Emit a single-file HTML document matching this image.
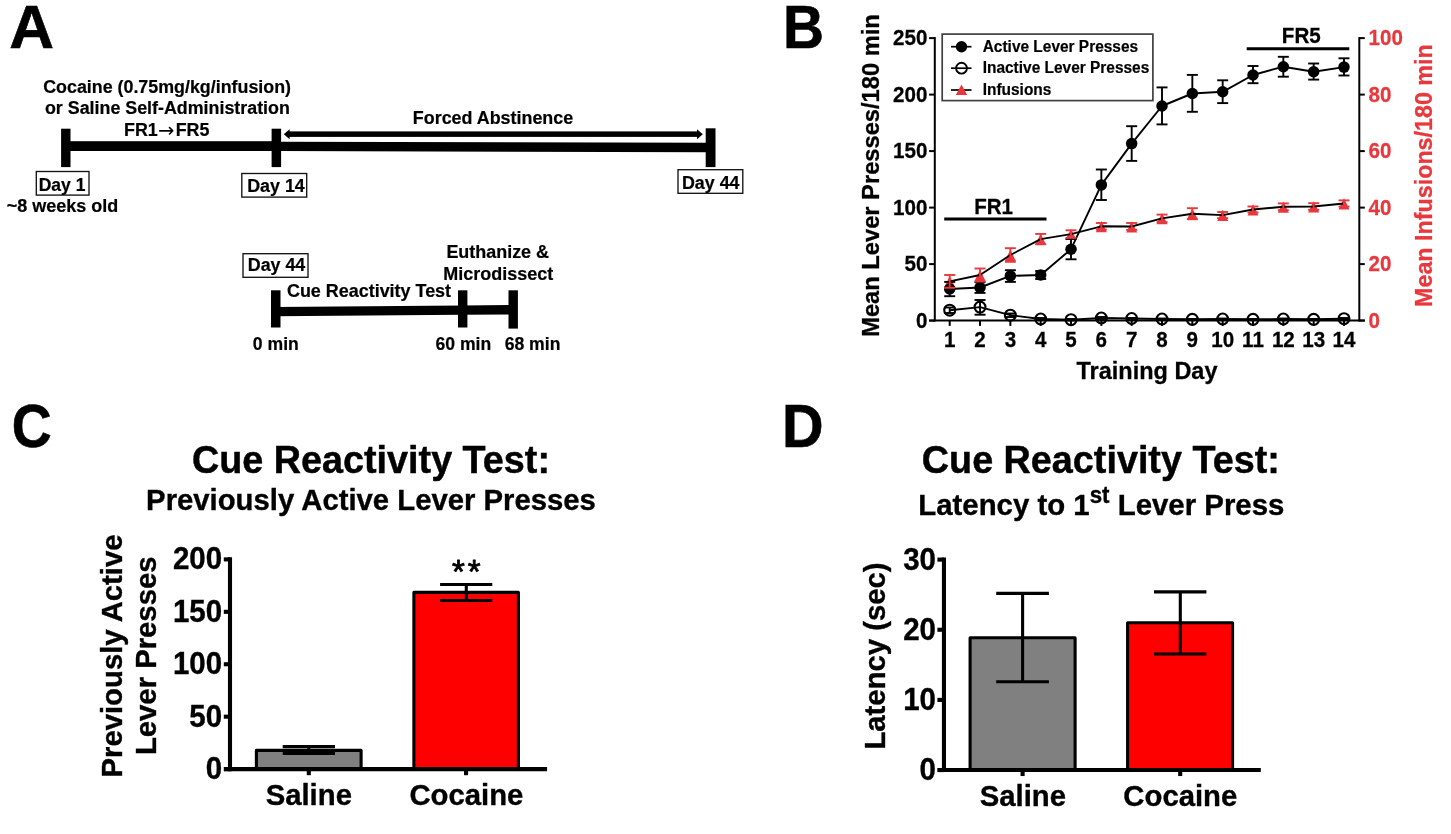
<!DOCTYPE html>
<html lang="en">
<head>
<meta charset="utf-8">
<title>Cocaine self-administration and cue reactivity figure</title>
<style>
html, body { margin: 0; padding: 0; background: #ffffff; }
body { width: 1451px; height: 834px; overflow: hidden; }
svg { display: block; }
svg text { font-family: "Liberation Sans", sans-serif; }
</style>
</head>
<body>
<svg width="1451" height="834" viewBox="0 0 1451 834">
<rect x="0" y="0" width="1451" height="834" fill="#ffffff"/>
<text transform="translate(9.3 47.85) scale(1.03 1)" font-size="60.2" font-weight="bold" fill="#000" stroke="#000" stroke-width="0.6">A</text>
<text transform="translate(783.0 47.85) scale(0.944 1)" font-size="60.2" font-weight="bold" fill="#000" stroke="#000" stroke-width="0.6">B</text>
<text transform="translate(11.8 447.2) scale(0.917 1)" font-size="60.2" font-weight="bold" fill="#000" stroke="#000" stroke-width="0.6">C</text>
<text transform="translate(782.0 446.9) scale(0.957 1)" font-size="60.2" font-weight="bold" fill="#000" stroke="#000" stroke-width="0.6">D</text>
<g id="panelA">
<text transform="translate(167.1 92.5) scale(1 1.035)" font-size="17.85" text-anchor="middle" fill="#000" stroke="#000" stroke-width="0.21" font-weight="bold">Cocaine (0.75mg/kg/infusion)</text>
<text transform="translate(167.4 113.8) scale(1 1.035)" font-size="17.85" text-anchor="middle" fill="#000" stroke="#000" stroke-width="0.21" font-weight="bold">or Saline Self-Administration</text>
<text transform="translate(0 135.6) scale(1 1.035)" font-size="17.9" font-weight="bold" fill="#000" stroke="#000" stroke-width="0.2"><tspan x="124.0">FR1</tspan><tspan x="158.0" dy="0.9" font-weight="normal" font-size="19.5" stroke="none" font-family="DejaVu Sans, Liberation Sans, sans-serif">→</tspan><tspan x="175.7" dy="-0.9">FR5</tspan></text>
<text transform="translate(493 123.6) scale(1 1.035)" font-size="17.9" text-anchor="middle" fill="#000" stroke="#000" stroke-width="0.21" font-weight="bold">Forced Abstinence</text>
<rect x="65.00" y="141.20" width="212.00" height="9.80" fill="#000"/>
<polygon points="276,141.7 711,142.8 711,152.3 276,151.1" fill="#000"/>
<rect x="61.10" y="128.70" width="9.40" height="38.40" fill="#000"/>
<rect x="271.60" y="128.70" width="9.50" height="38.40" fill="#000"/>
<rect x="705.70" y="128.30" width="9.80" height="38.80" fill="#000"/>
<rect x="288.00" y="131.40" width="410.00" height="5.50" fill="#000"/>
<polygon points="283.8,134.2 289.6,129.3 289.6,139.3" fill="#000"/>
<polygon points="702.8,134.2 697,129.3 697,139.3" fill="#000"/>
<rect x="36.30" y="171.50" width="52.70" height="23.60" fill="#fff" stroke="#141414" stroke-width="1.35"/>
<text transform="translate(62.05 190.6) scale(1 1.035)" font-size="17.5" text-anchor="middle" fill="#000" stroke="#000" stroke-width="0.21" font-weight="bold">Day 1</text>
<rect x="241.80" y="173.50" width="64.90" height="23.60" fill="#fff" stroke="#141414" stroke-width="1.35"/>
<text transform="translate(275.95 191.6) scale(1 1.035)" font-size="17.85" text-anchor="middle" fill="#000" stroke="#000" stroke-width="0.21" font-weight="bold">Day 14</text>
<rect x="678.00" y="169.70" width="64.80" height="23.60" fill="#fff" stroke="#141414" stroke-width="1.35"/>
<text transform="translate(710.6999999999999 188.6) scale(1 1.035)" font-size="17.85" text-anchor="middle" fill="#000" stroke="#000" stroke-width="0.21" font-weight="bold">Day 44</text>
<text transform="translate(62.5 212) scale(1 1.035)" font-size="18" text-anchor="middle" fill="#000" stroke="#000" stroke-width="0.22" font-weight="bold">~8 weeks old</text>
<rect x="243.00" y="253.70" width="65.00" height="23.60" fill="#fff" stroke="#141414" stroke-width="1.35"/>
<text transform="translate(276.5 271.4) scale(1 1.035)" font-size="17.85" text-anchor="middle" fill="#000" stroke="#000" stroke-width="0.21" font-weight="bold">Day 44</text>
<text transform="translate(369 297.0) scale(1 1.035)" font-size="17.95" text-anchor="middle" fill="#000" stroke="#000" stroke-width="0.22" font-weight="bold">Cue Reactivity Test</text>
<text transform="translate(497.7 258.3) scale(1 1.035)" font-size="17.95" text-anchor="middle" fill="#000" stroke="#000" stroke-width="0.22" font-weight="bold">Euthanize &amp;</text>
<text transform="translate(498.2 279.8) scale(1 1.035)" font-size="18" text-anchor="middle" fill="#000" stroke="#000" stroke-width="0.22" font-weight="bold">Microdissect</text>
<polygon points="275,306.9 462,305.4 513,305.1 513,314.4 462,314.8 275,316.3" fill="#000"/>
<rect x="271.00" y="290.30" width="9.50" height="37.20" fill="#000"/>
<rect x="458.00" y="290.30" width="9.40" height="37.20" fill="#000"/>
<rect x="508.50" y="290.30" width="9.40" height="38.30" fill="#000"/>
<text transform="translate(275.8 349.6) scale(1 1.035)" font-size="17.6" text-anchor="middle" fill="#000" stroke="#000" stroke-width="0.21" font-weight="bold">0 min</text>
<text transform="translate(463.3 349.6) scale(1 1.035)" font-size="17.6" text-anchor="middle" fill="#000" stroke="#000" stroke-width="0.21" font-weight="bold">60 min</text>
<text transform="translate(532.5 349.6) scale(1 1.035)" font-size="17.6" text-anchor="middle" fill="#000" stroke="#000" stroke-width="0.21" font-weight="bold">68 min</text>
</g>
<g id="panelB">
<line x1="929.10" y1="320.60" x2="934.80" y2="320.60" stroke="#000" stroke-width="2.0" stroke-linecap="butt"/>
<text transform="translate(927.4 327.90000000000003) scale(1 1.035)" font-size="20.6" text-anchor="end" fill="#000" stroke="#000" stroke-width="0.25" font-weight="bold">0</text>
<line x1="929.10" y1="264.10" x2="934.80" y2="264.10" stroke="#000" stroke-width="2.0" stroke-linecap="butt"/>
<text transform="translate(927.4 271.40000000000003) scale(1 1.035)" font-size="20.6" text-anchor="end" fill="#000" stroke="#000" stroke-width="0.25" font-weight="bold">50</text>
<line x1="929.10" y1="207.60" x2="934.80" y2="207.60" stroke="#000" stroke-width="2.0" stroke-linecap="butt"/>
<text transform="translate(927.4 214.90000000000003) scale(1 1.035)" font-size="20.6" text-anchor="end" fill="#000" stroke="#000" stroke-width="0.25" font-weight="bold">100</text>
<line x1="929.10" y1="151.10" x2="934.80" y2="151.10" stroke="#000" stroke-width="2.0" stroke-linecap="butt"/>
<text transform="translate(927.4 158.40000000000003) scale(1 1.035)" font-size="20.6" text-anchor="end" fill="#000" stroke="#000" stroke-width="0.25" font-weight="bold">150</text>
<line x1="929.10" y1="94.60" x2="934.80" y2="94.60" stroke="#000" stroke-width="2.0" stroke-linecap="butt"/>
<text transform="translate(927.4 101.90000000000002) scale(1 1.035)" font-size="20.6" text-anchor="end" fill="#000" stroke="#000" stroke-width="0.25" font-weight="bold">200</text>
<line x1="929.10" y1="38.10" x2="934.80" y2="38.10" stroke="#000" stroke-width="2.0" stroke-linecap="butt"/>
<text transform="translate(927.4 45.40000000000002) scale(1 1.035)" font-size="20.6" text-anchor="end" fill="#000" stroke="#000" stroke-width="0.25" font-weight="bold">250</text>
<line x1="1359.30" y1="320.60" x2="1364.80" y2="320.60" stroke="#000" stroke-width="2.0" stroke-linecap="butt"/>
<text transform="translate(1368.6 327.90000000000003) scale(1 1.035)" font-size="20.6" text-anchor="start" fill="#e8383d" stroke="#e8383d" stroke-width="0.25" font-weight="bold">0</text>
<line x1="1359.30" y1="264.10" x2="1364.80" y2="264.10" stroke="#000" stroke-width="2.0" stroke-linecap="butt"/>
<text transform="translate(1368.6 271.40000000000003) scale(1 1.035)" font-size="20.6" text-anchor="start" fill="#e8383d" stroke="#e8383d" stroke-width="0.25" font-weight="bold">20</text>
<line x1="1359.30" y1="207.60" x2="1364.80" y2="207.60" stroke="#000" stroke-width="2.0" stroke-linecap="butt"/>
<text transform="translate(1368.6 214.90000000000003) scale(1 1.035)" font-size="20.6" text-anchor="start" fill="#e8383d" stroke="#e8383d" stroke-width="0.25" font-weight="bold">40</text>
<line x1="1359.30" y1="151.10" x2="1364.80" y2="151.10" stroke="#000" stroke-width="2.0" stroke-linecap="butt"/>
<text transform="translate(1368.6 158.40000000000003) scale(1 1.035)" font-size="20.6" text-anchor="start" fill="#e8383d" stroke="#e8383d" stroke-width="0.25" font-weight="bold">60</text>
<line x1="1359.30" y1="94.60" x2="1364.80" y2="94.60" stroke="#000" stroke-width="2.0" stroke-linecap="butt"/>
<text transform="translate(1368.6 101.90000000000002) scale(1 1.035)" font-size="20.6" text-anchor="start" fill="#e8383d" stroke="#e8383d" stroke-width="0.25" font-weight="bold">80</text>
<line x1="1359.30" y1="38.10" x2="1364.80" y2="38.10" stroke="#000" stroke-width="2.0" stroke-linecap="butt"/>
<text transform="translate(1368.6 45.40000000000002) scale(1 1.035)" font-size="20.6" text-anchor="start" fill="#e8383d" stroke="#e8383d" stroke-width="0.25" font-weight="bold">100</text>
<line x1="949.70" y1="320.60" x2="949.70" y2="325.90" stroke="#000" stroke-width="2.0" stroke-linecap="butt"/>
<text transform="translate(949.7 347.0) scale(1 1.035)" font-size="20.6" text-anchor="middle" fill="#000" stroke="#000" stroke-width="0.25" font-weight="bold">1</text>
<line x1="980.03" y1="320.60" x2="980.03" y2="325.90" stroke="#000" stroke-width="2.0" stroke-linecap="butt"/>
<text transform="translate(980.0300000000001 347.0) scale(1 1.035)" font-size="20.6" text-anchor="middle" fill="#000" stroke="#000" stroke-width="0.25" font-weight="bold">2</text>
<line x1="1010.36" y1="320.60" x2="1010.36" y2="325.90" stroke="#000" stroke-width="2.0" stroke-linecap="butt"/>
<text transform="translate(1010.36 347.0) scale(1 1.035)" font-size="20.6" text-anchor="middle" fill="#000" stroke="#000" stroke-width="0.25" font-weight="bold">3</text>
<line x1="1040.69" y1="320.60" x2="1040.69" y2="325.90" stroke="#000" stroke-width="2.0" stroke-linecap="butt"/>
<text transform="translate(1040.69 347.0) scale(1 1.035)" font-size="20.6" text-anchor="middle" fill="#000" stroke="#000" stroke-width="0.25" font-weight="bold">4</text>
<line x1="1071.02" y1="320.60" x2="1071.02" y2="325.90" stroke="#000" stroke-width="2.0" stroke-linecap="butt"/>
<text transform="translate(1071.02 347.0) scale(1 1.035)" font-size="20.6" text-anchor="middle" fill="#000" stroke="#000" stroke-width="0.25" font-weight="bold">5</text>
<line x1="1101.35" y1="320.60" x2="1101.35" y2="325.90" stroke="#000" stroke-width="2.0" stroke-linecap="butt"/>
<text transform="translate(1101.35 347.0) scale(1 1.035)" font-size="20.6" text-anchor="middle" fill="#000" stroke="#000" stroke-width="0.25" font-weight="bold">6</text>
<line x1="1131.68" y1="320.60" x2="1131.68" y2="325.90" stroke="#000" stroke-width="2.0" stroke-linecap="butt"/>
<text transform="translate(1131.68 347.0) scale(1 1.035)" font-size="20.6" text-anchor="middle" fill="#000" stroke="#000" stroke-width="0.25" font-weight="bold">7</text>
<line x1="1162.01" y1="320.60" x2="1162.01" y2="325.90" stroke="#000" stroke-width="2.0" stroke-linecap="butt"/>
<text transform="translate(1162.01 347.0) scale(1 1.035)" font-size="20.6" text-anchor="middle" fill="#000" stroke="#000" stroke-width="0.25" font-weight="bold">8</text>
<line x1="1192.34" y1="320.60" x2="1192.34" y2="325.90" stroke="#000" stroke-width="2.0" stroke-linecap="butt"/>
<text transform="translate(1192.3400000000001 347.0) scale(1 1.035)" font-size="20.6" text-anchor="middle" fill="#000" stroke="#000" stroke-width="0.25" font-weight="bold">9</text>
<line x1="1222.67" y1="320.60" x2="1222.67" y2="325.90" stroke="#000" stroke-width="2.0" stroke-linecap="butt"/>
<text transform="translate(1222.67 347.0) scale(1 1.035)" font-size="20.6" text-anchor="middle" fill="#000" stroke="#000" stroke-width="0.25" font-weight="bold">10</text>
<line x1="1253.00" y1="320.60" x2="1253.00" y2="325.90" stroke="#000" stroke-width="2.0" stroke-linecap="butt"/>
<text transform="translate(1253.0 347.0) scale(1 1.035)" font-size="20.6" text-anchor="middle" fill="#000" stroke="#000" stroke-width="0.25" font-weight="bold">11</text>
<line x1="1283.33" y1="320.60" x2="1283.33" y2="325.90" stroke="#000" stroke-width="2.0" stroke-linecap="butt"/>
<text transform="translate(1283.33 347.0) scale(1 1.035)" font-size="20.6" text-anchor="middle" fill="#000" stroke="#000" stroke-width="0.25" font-weight="bold">12</text>
<line x1="1313.66" y1="320.60" x2="1313.66" y2="325.90" stroke="#000" stroke-width="2.0" stroke-linecap="butt"/>
<text transform="translate(1313.66 347.0) scale(1 1.035)" font-size="20.6" text-anchor="middle" fill="#000" stroke="#000" stroke-width="0.25" font-weight="bold">13</text>
<line x1="1343.99" y1="320.60" x2="1343.99" y2="325.90" stroke="#000" stroke-width="2.0" stroke-linecap="butt"/>
<text transform="translate(1343.99 347.0) scale(1 1.035)" font-size="20.6" text-anchor="middle" fill="#000" stroke="#000" stroke-width="0.25" font-weight="bold">14</text>
<text transform="translate(1147 379.0) scale(1 1.035)" font-size="23.5" text-anchor="middle" fill="#000" stroke="#000" stroke-width="0.28" font-weight="bold">Training Day</text>
<text transform="translate(878.5 175.5) rotate(-90) scale(1 1.035)" font-size="23.7" text-anchor="middle" fill="#000" stroke="#000" stroke-width="0.28" font-weight="bold">Mean Lever Presses/180 min</text>
<text transform="translate(1432.3 175.6) rotate(-90) scale(1 1.035)" font-size="23.3" text-anchor="middle" fill="#e8383d" stroke="#e8383d" stroke-width="0.28" font-weight="bold">Mean Infusions/180 min</text>
<text transform="translate(993.6 213.6) scale(1 1.035)" font-size="20.6" text-anchor="middle" fill="#000" stroke="#000" stroke-width="0.25" font-weight="bold">FR1</text>
<line x1="944.20" y1="219.00" x2="1046.50" y2="219.00" stroke="#000" stroke-width="3" stroke-linecap="butt"/>
<text transform="translate(1301.3 42.7) scale(1 1.035)" font-size="20.6" text-anchor="middle" fill="#000" stroke="#000" stroke-width="0.25" font-weight="bold">FR5</text>
<line x1="1246.70" y1="48.70" x2="1349.30" y2="48.70" stroke="#000" stroke-width="3" stroke-linecap="butt"/>
<polygon points="949.70,276.10 944.20,287.30 955.20,287.30" fill="#e8383d"/>
<polygon points="980.03,269.70 974.53,280.90 985.53,280.90" fill="#e8383d"/>
<polygon points="1010.36,249.70 1004.86,260.90 1015.86,260.90" fill="#e8383d"/>
<polygon points="1040.69,233.80 1035.19,245.00 1046.19,245.00" fill="#e8383d"/>
<polygon points="1071.02,228.80 1065.52,240.00 1076.52,240.00" fill="#e8383d"/>
<polygon points="1101.35,221.00 1095.85,232.20 1106.85,232.20" fill="#e8383d"/>
<polygon points="1131.68,221.20 1126.18,232.40 1137.18,232.40" fill="#e8383d"/>
<polygon points="1162.01,213.10 1156.51,224.30 1167.51,224.30" fill="#e8383d"/>
<polygon points="1192.34,208.40 1186.84,219.60 1197.84,219.60" fill="#e8383d"/>
<polygon points="1222.67,209.80 1217.17,221.00 1228.17,221.00" fill="#e8383d"/>
<polygon points="1253.00,204.20 1247.50,215.40 1258.50,215.40" fill="#e8383d"/>
<polygon points="1283.33,201.50 1277.83,212.70 1288.83,212.70" fill="#e8383d"/>
<polygon points="1313.66,201.20 1308.16,212.40 1319.16,212.40" fill="#e8383d"/>
<polygon points="1343.99,198.20 1338.49,209.40 1349.49,209.40" fill="#e8383d"/>
<circle cx="949.70" cy="289.00" r="5.75" fill="#000"/>
<circle cx="980.03" cy="287.50" r="5.75" fill="#000"/>
<circle cx="1010.36" cy="275.90" r="5.75" fill="#000"/>
<circle cx="1040.69" cy="275.00" r="5.75" fill="#000"/>
<circle cx="1071.02" cy="249.20" r="5.75" fill="#000"/>
<circle cx="1101.35" cy="184.90" r="5.75" fill="#000"/>
<circle cx="1131.68" cy="143.60" r="5.75" fill="#000"/>
<circle cx="1162.01" cy="106.00" r="5.75" fill="#000"/>
<circle cx="1192.34" cy="93.50" r="5.75" fill="#000"/>
<circle cx="1222.67" cy="91.80" r="5.75" fill="#000"/>
<circle cx="1253.00" cy="75.00" r="5.75" fill="#000"/>
<circle cx="1283.33" cy="66.70" r="5.75" fill="#000"/>
<circle cx="1313.66" cy="71.70" r="5.75" fill="#000"/>
<circle cx="1343.99" cy="67.10" r="5.75" fill="#000"/>
<polyline points="949.70,281.40 980.03,275.00 1010.36,255.00 1040.69,239.10 1071.02,234.10 1101.35,226.30 1131.68,226.50 1162.01,218.40 1192.34,213.70 1222.67,215.10 1253.00,209.50 1283.33,206.80 1313.66,206.50 1343.99,203.50" fill="none" stroke="#000" stroke-width="1.9" stroke-linejoin="round"/>
<polyline points="949.70,289.00 980.03,287.50 1010.36,275.90 1040.69,275.00 1071.02,249.20 1101.35,184.90 1131.68,143.60 1162.01,106.00 1192.34,93.50 1222.67,91.80 1253.00,75.00 1283.33,66.70 1313.66,71.70 1343.99,67.10" fill="none" stroke="#000" stroke-width="1.9" stroke-linejoin="round"/>
<polyline points="949.70,310.20 980.03,307.10 1010.36,315.20 1040.69,319.00 1071.02,319.70 1101.35,318.00 1131.68,318.50 1162.01,319.00 1192.34,319.30 1222.67,319.00 1253.00,319.30 1283.33,319.00 1313.66,319.30 1343.99,318.70" fill="none" stroke="#000" stroke-width="1.9" stroke-linejoin="round"/>
<circle cx="949.70" cy="310.20" r="5.45" fill="none" stroke="#000" stroke-width="2.1"/>
<circle cx="980.03" cy="307.10" r="5.45" fill="none" stroke="#000" stroke-width="2.1"/>
<circle cx="1010.36" cy="315.20" r="5.45" fill="none" stroke="#000" stroke-width="2.1"/>
<circle cx="1040.69" cy="319.00" r="5.45" fill="none" stroke="#000" stroke-width="2.1"/>
<circle cx="1071.02" cy="319.70" r="5.45" fill="none" stroke="#000" stroke-width="2.1"/>
<circle cx="1101.35" cy="318.00" r="5.45" fill="none" stroke="#000" stroke-width="2.1"/>
<circle cx="1131.68" cy="318.50" r="5.45" fill="none" stroke="#000" stroke-width="2.1"/>
<circle cx="1162.01" cy="319.00" r="5.45" fill="none" stroke="#000" stroke-width="2.1"/>
<circle cx="1192.34" cy="319.30" r="5.45" fill="none" stroke="#000" stroke-width="2.1"/>
<circle cx="1222.67" cy="319.00" r="5.45" fill="none" stroke="#000" stroke-width="2.1"/>
<circle cx="1253.00" cy="319.30" r="5.45" fill="none" stroke="#000" stroke-width="2.1"/>
<circle cx="1283.33" cy="319.00" r="5.45" fill="none" stroke="#000" stroke-width="2.1"/>
<circle cx="1313.66" cy="319.30" r="5.45" fill="none" stroke="#000" stroke-width="2.1"/>
<circle cx="1343.99" cy="318.70" r="5.45" fill="none" stroke="#000" stroke-width="2.1"/>
<line x1="949.70" y1="307.50" x2="949.70" y2="313.00" stroke="#000" stroke-width="1.9" stroke-linecap="butt"/>
<line x1="944.20" y1="307.50" x2="955.20" y2="307.50" stroke="#000" stroke-width="1.9" stroke-linecap="butt"/>
<line x1="944.20" y1="313.00" x2="955.20" y2="313.00" stroke="#000" stroke-width="1.9" stroke-linecap="butt"/>
<line x1="980.03" y1="300.00" x2="980.03" y2="314.70" stroke="#000" stroke-width="1.9" stroke-linecap="butt"/>
<line x1="974.53" y1="300.00" x2="985.53" y2="300.00" stroke="#000" stroke-width="1.9" stroke-linecap="butt"/>
<line x1="974.53" y1="314.70" x2="985.53" y2="314.70" stroke="#000" stroke-width="1.9" stroke-linecap="butt"/>
<line x1="1010.36" y1="313.50" x2="1010.36" y2="317.00" stroke="#000" stroke-width="1.9" stroke-linecap="butt"/>
<line x1="1004.86" y1="313.50" x2="1015.86" y2="313.50" stroke="#000" stroke-width="1.9" stroke-linecap="butt"/>
<line x1="1004.86" y1="317.00" x2="1015.86" y2="317.00" stroke="#000" stroke-width="1.9" stroke-linecap="butt"/>
<line x1="1040.69" y1="318.00" x2="1040.69" y2="320.00" stroke="#000" stroke-width="1.9" stroke-linecap="butt"/>
<line x1="1035.19" y1="318.00" x2="1046.19" y2="318.00" stroke="#000" stroke-width="1.9" stroke-linecap="butt"/>
<line x1="1035.19" y1="320.00" x2="1046.19" y2="320.00" stroke="#000" stroke-width="1.9" stroke-linecap="butt"/>
<line x1="1071.02" y1="319.00" x2="1071.02" y2="320.40" stroke="#000" stroke-width="1.9" stroke-linecap="butt"/>
<line x1="1065.52" y1="319.00" x2="1076.52" y2="319.00" stroke="#000" stroke-width="1.9" stroke-linecap="butt"/>
<line x1="1065.52" y1="320.40" x2="1076.52" y2="320.40" stroke="#000" stroke-width="1.9" stroke-linecap="butt"/>
<line x1="1101.35" y1="317.00" x2="1101.35" y2="319.00" stroke="#000" stroke-width="1.9" stroke-linecap="butt"/>
<line x1="1095.85" y1="317.00" x2="1106.85" y2="317.00" stroke="#000" stroke-width="1.9" stroke-linecap="butt"/>
<line x1="1095.85" y1="319.00" x2="1106.85" y2="319.00" stroke="#000" stroke-width="1.9" stroke-linecap="butt"/>
<line x1="1131.68" y1="318.00" x2="1131.68" y2="319.00" stroke="#000" stroke-width="1.9" stroke-linecap="butt"/>
<line x1="1126.18" y1="318.00" x2="1137.18" y2="318.00" stroke="#000" stroke-width="1.9" stroke-linecap="butt"/>
<line x1="1126.18" y1="319.00" x2="1137.18" y2="319.00" stroke="#000" stroke-width="1.9" stroke-linecap="butt"/>
<line x1="1162.01" y1="318.50" x2="1162.01" y2="319.50" stroke="#000" stroke-width="1.9" stroke-linecap="butt"/>
<line x1="1156.51" y1="318.50" x2="1167.51" y2="318.50" stroke="#000" stroke-width="1.9" stroke-linecap="butt"/>
<line x1="1156.51" y1="319.50" x2="1167.51" y2="319.50" stroke="#000" stroke-width="1.9" stroke-linecap="butt"/>
<line x1="1192.34" y1="319.00" x2="1192.34" y2="319.70" stroke="#000" stroke-width="1.9" stroke-linecap="butt"/>
<line x1="1186.84" y1="319.00" x2="1197.84" y2="319.00" stroke="#000" stroke-width="1.9" stroke-linecap="butt"/>
<line x1="1186.84" y1="319.70" x2="1197.84" y2="319.70" stroke="#000" stroke-width="1.9" stroke-linecap="butt"/>
<line x1="1222.67" y1="318.50" x2="1222.67" y2="319.50" stroke="#000" stroke-width="1.9" stroke-linecap="butt"/>
<line x1="1217.17" y1="318.50" x2="1228.17" y2="318.50" stroke="#000" stroke-width="1.9" stroke-linecap="butt"/>
<line x1="1217.17" y1="319.50" x2="1228.17" y2="319.50" stroke="#000" stroke-width="1.9" stroke-linecap="butt"/>
<line x1="1253.00" y1="319.00" x2="1253.00" y2="319.70" stroke="#000" stroke-width="1.9" stroke-linecap="butt"/>
<line x1="1247.50" y1="319.00" x2="1258.50" y2="319.00" stroke="#000" stroke-width="1.9" stroke-linecap="butt"/>
<line x1="1247.50" y1="319.70" x2="1258.50" y2="319.70" stroke="#000" stroke-width="1.9" stroke-linecap="butt"/>
<line x1="1283.33" y1="318.50" x2="1283.33" y2="319.50" stroke="#000" stroke-width="1.9" stroke-linecap="butt"/>
<line x1="1277.83" y1="318.50" x2="1288.83" y2="318.50" stroke="#000" stroke-width="1.9" stroke-linecap="butt"/>
<line x1="1277.83" y1="319.50" x2="1288.83" y2="319.50" stroke="#000" stroke-width="1.9" stroke-linecap="butt"/>
<line x1="1313.66" y1="319.00" x2="1313.66" y2="319.70" stroke="#000" stroke-width="1.9" stroke-linecap="butt"/>
<line x1="1308.16" y1="319.00" x2="1319.16" y2="319.00" stroke="#000" stroke-width="1.9" stroke-linecap="butt"/>
<line x1="1308.16" y1="319.70" x2="1319.16" y2="319.70" stroke="#000" stroke-width="1.9" stroke-linecap="butt"/>
<line x1="1343.99" y1="318.00" x2="1343.99" y2="319.40" stroke="#000" stroke-width="1.9" stroke-linecap="butt"/>
<line x1="1338.49" y1="318.00" x2="1349.49" y2="318.00" stroke="#000" stroke-width="1.9" stroke-linecap="butt"/>
<line x1="1338.49" y1="319.40" x2="1349.49" y2="319.40" stroke="#000" stroke-width="1.9" stroke-linecap="butt"/>
<line x1="949.70" y1="281.90" x2="949.70" y2="296.20" stroke="#000" stroke-width="1.9" stroke-linecap="butt"/>
<line x1="944.20" y1="281.90" x2="955.20" y2="281.90" stroke="#000" stroke-width="1.9" stroke-linecap="butt"/>
<line x1="944.20" y1="296.20" x2="955.20" y2="296.20" stroke="#000" stroke-width="1.9" stroke-linecap="butt"/>
<line x1="980.03" y1="282.20" x2="980.03" y2="292.90" stroke="#000" stroke-width="1.9" stroke-linecap="butt"/>
<line x1="974.53" y1="282.20" x2="985.53" y2="282.20" stroke="#000" stroke-width="1.9" stroke-linecap="butt"/>
<line x1="974.53" y1="292.90" x2="985.53" y2="292.90" stroke="#000" stroke-width="1.9" stroke-linecap="butt"/>
<line x1="1010.36" y1="270.20" x2="1010.36" y2="281.90" stroke="#000" stroke-width="1.9" stroke-linecap="butt"/>
<line x1="1004.86" y1="270.20" x2="1015.86" y2="270.20" stroke="#000" stroke-width="1.9" stroke-linecap="butt"/>
<line x1="1004.86" y1="281.90" x2="1015.86" y2="281.90" stroke="#000" stroke-width="1.9" stroke-linecap="butt"/>
<line x1="1040.69" y1="271.00" x2="1040.69" y2="279.00" stroke="#000" stroke-width="1.9" stroke-linecap="butt"/>
<line x1="1035.19" y1="271.00" x2="1046.19" y2="271.00" stroke="#000" stroke-width="1.9" stroke-linecap="butt"/>
<line x1="1035.19" y1="279.00" x2="1046.19" y2="279.00" stroke="#000" stroke-width="1.9" stroke-linecap="butt"/>
<line x1="1071.02" y1="239.00" x2="1071.02" y2="259.30" stroke="#000" stroke-width="1.9" stroke-linecap="butt"/>
<line x1="1065.52" y1="239.00" x2="1076.52" y2="239.00" stroke="#000" stroke-width="1.9" stroke-linecap="butt"/>
<line x1="1065.52" y1="259.30" x2="1076.52" y2="259.30" stroke="#000" stroke-width="1.9" stroke-linecap="butt"/>
<line x1="1101.35" y1="169.50" x2="1101.35" y2="200.00" stroke="#000" stroke-width="1.9" stroke-linecap="butt"/>
<line x1="1095.85" y1="169.50" x2="1106.85" y2="169.50" stroke="#000" stroke-width="1.9" stroke-linecap="butt"/>
<line x1="1095.85" y1="200.00" x2="1106.85" y2="200.00" stroke="#000" stroke-width="1.9" stroke-linecap="butt"/>
<line x1="1131.68" y1="126.20" x2="1131.68" y2="160.90" stroke="#000" stroke-width="1.9" stroke-linecap="butt"/>
<line x1="1126.18" y1="126.20" x2="1137.18" y2="126.20" stroke="#000" stroke-width="1.9" stroke-linecap="butt"/>
<line x1="1126.18" y1="160.90" x2="1137.18" y2="160.90" stroke="#000" stroke-width="1.9" stroke-linecap="butt"/>
<line x1="1162.01" y1="87.40" x2="1162.01" y2="124.40" stroke="#000" stroke-width="1.9" stroke-linecap="butt"/>
<line x1="1156.51" y1="87.40" x2="1167.51" y2="87.40" stroke="#000" stroke-width="1.9" stroke-linecap="butt"/>
<line x1="1156.51" y1="124.40" x2="1167.51" y2="124.40" stroke="#000" stroke-width="1.9" stroke-linecap="butt"/>
<line x1="1192.34" y1="74.90" x2="1192.34" y2="111.80" stroke="#000" stroke-width="1.9" stroke-linecap="butt"/>
<line x1="1186.84" y1="74.90" x2="1197.84" y2="74.90" stroke="#000" stroke-width="1.9" stroke-linecap="butt"/>
<line x1="1186.84" y1="111.80" x2="1197.84" y2="111.80" stroke="#000" stroke-width="1.9" stroke-linecap="butt"/>
<line x1="1222.67" y1="80.30" x2="1222.67" y2="103.10" stroke="#000" stroke-width="1.9" stroke-linecap="butt"/>
<line x1="1217.17" y1="80.30" x2="1228.17" y2="80.30" stroke="#000" stroke-width="1.9" stroke-linecap="butt"/>
<line x1="1217.17" y1="103.10" x2="1228.17" y2="103.10" stroke="#000" stroke-width="1.9" stroke-linecap="butt"/>
<line x1="1253.00" y1="66.00" x2="1253.00" y2="83.20" stroke="#000" stroke-width="1.9" stroke-linecap="butt"/>
<line x1="1247.50" y1="66.00" x2="1258.50" y2="66.00" stroke="#000" stroke-width="1.9" stroke-linecap="butt"/>
<line x1="1247.50" y1="83.20" x2="1258.50" y2="83.20" stroke="#000" stroke-width="1.9" stroke-linecap="butt"/>
<line x1="1283.33" y1="56.80" x2="1283.33" y2="76.70" stroke="#000" stroke-width="1.9" stroke-linecap="butt"/>
<line x1="1277.83" y1="56.80" x2="1288.83" y2="56.80" stroke="#000" stroke-width="1.9" stroke-linecap="butt"/>
<line x1="1277.83" y1="76.70" x2="1288.83" y2="76.70" stroke="#000" stroke-width="1.9" stroke-linecap="butt"/>
<line x1="1313.66" y1="63.50" x2="1313.66" y2="79.60" stroke="#000" stroke-width="1.9" stroke-linecap="butt"/>
<line x1="1308.16" y1="63.50" x2="1319.16" y2="63.50" stroke="#000" stroke-width="1.9" stroke-linecap="butt"/>
<line x1="1308.16" y1="79.60" x2="1319.16" y2="79.60" stroke="#000" stroke-width="1.9" stroke-linecap="butt"/>
<line x1="1343.99" y1="58.30" x2="1343.99" y2="75.50" stroke="#000" stroke-width="1.9" stroke-linecap="butt"/>
<line x1="1338.49" y1="58.30" x2="1349.49" y2="58.30" stroke="#000" stroke-width="1.9" stroke-linecap="butt"/>
<line x1="1338.49" y1="75.50" x2="1349.49" y2="75.50" stroke="#000" stroke-width="1.9" stroke-linecap="butt"/>
<line x1="949.70" y1="275.00" x2="949.70" y2="287.80" stroke="#e8383d" stroke-width="1.9" stroke-linecap="butt"/>
<line x1="944.20" y1="275.00" x2="955.20" y2="275.00" stroke="#e8383d" stroke-width="1.9" stroke-linecap="butt"/>
<line x1="944.20" y1="287.80" x2="955.20" y2="287.80" stroke="#e8383d" stroke-width="1.9" stroke-linecap="butt"/>
<line x1="980.03" y1="268.50" x2="980.03" y2="281.50" stroke="#e8383d" stroke-width="1.9" stroke-linecap="butt"/>
<line x1="974.53" y1="268.50" x2="985.53" y2="268.50" stroke="#e8383d" stroke-width="1.9" stroke-linecap="butt"/>
<line x1="974.53" y1="281.50" x2="985.53" y2="281.50" stroke="#e8383d" stroke-width="1.9" stroke-linecap="butt"/>
<line x1="1010.36" y1="248.20" x2="1010.36" y2="261.80" stroke="#e8383d" stroke-width="1.9" stroke-linecap="butt"/>
<line x1="1004.86" y1="248.20" x2="1015.86" y2="248.20" stroke="#e8383d" stroke-width="1.9" stroke-linecap="butt"/>
<line x1="1004.86" y1="261.80" x2="1015.86" y2="261.80" stroke="#e8383d" stroke-width="1.9" stroke-linecap="butt"/>
<line x1="1040.69" y1="233.90" x2="1040.69" y2="244.30" stroke="#e8383d" stroke-width="1.9" stroke-linecap="butt"/>
<line x1="1035.19" y1="233.90" x2="1046.19" y2="233.90" stroke="#e8383d" stroke-width="1.9" stroke-linecap="butt"/>
<line x1="1035.19" y1="244.30" x2="1046.19" y2="244.30" stroke="#e8383d" stroke-width="1.9" stroke-linecap="butt"/>
<line x1="1071.02" y1="230.30" x2="1071.02" y2="237.90" stroke="#e8383d" stroke-width="1.9" stroke-linecap="butt"/>
<line x1="1065.52" y1="230.30" x2="1076.52" y2="230.30" stroke="#e8383d" stroke-width="1.9" stroke-linecap="butt"/>
<line x1="1065.52" y1="237.90" x2="1076.52" y2="237.90" stroke="#e8383d" stroke-width="1.9" stroke-linecap="butt"/>
<line x1="1101.35" y1="223.00" x2="1101.35" y2="229.60" stroke="#e8383d" stroke-width="1.9" stroke-linecap="butt"/>
<line x1="1095.85" y1="223.00" x2="1106.85" y2="223.00" stroke="#e8383d" stroke-width="1.9" stroke-linecap="butt"/>
<line x1="1095.85" y1="229.60" x2="1106.85" y2="229.60" stroke="#e8383d" stroke-width="1.9" stroke-linecap="butt"/>
<line x1="1131.68" y1="223.00" x2="1131.68" y2="229.90" stroke="#e8383d" stroke-width="1.9" stroke-linecap="butt"/>
<line x1="1126.18" y1="223.00" x2="1137.18" y2="223.00" stroke="#e8383d" stroke-width="1.9" stroke-linecap="butt"/>
<line x1="1126.18" y1="229.90" x2="1137.18" y2="229.90" stroke="#e8383d" stroke-width="1.9" stroke-linecap="butt"/>
<line x1="1162.01" y1="214.60" x2="1162.01" y2="222.20" stroke="#e8383d" stroke-width="1.9" stroke-linecap="butt"/>
<line x1="1156.51" y1="214.60" x2="1167.51" y2="214.60" stroke="#e8383d" stroke-width="1.9" stroke-linecap="butt"/>
<line x1="1156.51" y1="222.20" x2="1167.51" y2="222.20" stroke="#e8383d" stroke-width="1.9" stroke-linecap="butt"/>
<line x1="1192.34" y1="208.20" x2="1192.34" y2="219.20" stroke="#e8383d" stroke-width="1.9" stroke-linecap="butt"/>
<line x1="1186.84" y1="208.20" x2="1197.84" y2="208.20" stroke="#e8383d" stroke-width="1.9" stroke-linecap="butt"/>
<line x1="1186.84" y1="219.20" x2="1197.84" y2="219.20" stroke="#e8383d" stroke-width="1.9" stroke-linecap="butt"/>
<line x1="1222.67" y1="212.00" x2="1222.67" y2="218.20" stroke="#e8383d" stroke-width="1.9" stroke-linecap="butt"/>
<line x1="1217.17" y1="212.00" x2="1228.17" y2="212.00" stroke="#e8383d" stroke-width="1.9" stroke-linecap="butt"/>
<line x1="1217.17" y1="218.20" x2="1228.17" y2="218.20" stroke="#e8383d" stroke-width="1.9" stroke-linecap="butt"/>
<line x1="1253.00" y1="206.50" x2="1253.00" y2="212.50" stroke="#e8383d" stroke-width="1.9" stroke-linecap="butt"/>
<line x1="1247.50" y1="206.50" x2="1258.50" y2="206.50" stroke="#e8383d" stroke-width="1.9" stroke-linecap="butt"/>
<line x1="1247.50" y1="212.50" x2="1258.50" y2="212.50" stroke="#e8383d" stroke-width="1.9" stroke-linecap="butt"/>
<line x1="1283.33" y1="203.40" x2="1283.33" y2="210.20" stroke="#e8383d" stroke-width="1.9" stroke-linecap="butt"/>
<line x1="1277.83" y1="203.40" x2="1288.83" y2="203.40" stroke="#e8383d" stroke-width="1.9" stroke-linecap="butt"/>
<line x1="1277.83" y1="210.20" x2="1288.83" y2="210.20" stroke="#e8383d" stroke-width="1.9" stroke-linecap="butt"/>
<line x1="1313.66" y1="203.20" x2="1313.66" y2="209.80" stroke="#e8383d" stroke-width="1.9" stroke-linecap="butt"/>
<line x1="1308.16" y1="203.20" x2="1319.16" y2="203.20" stroke="#e8383d" stroke-width="1.9" stroke-linecap="butt"/>
<line x1="1308.16" y1="209.80" x2="1319.16" y2="209.80" stroke="#e8383d" stroke-width="1.9" stroke-linecap="butt"/>
<line x1="1343.99" y1="200.40" x2="1343.99" y2="206.60" stroke="#e8383d" stroke-width="1.9" stroke-linecap="butt"/>
<line x1="1338.49" y1="200.40" x2="1349.49" y2="200.40" stroke="#e8383d" stroke-width="1.9" stroke-linecap="butt"/>
<line x1="1338.49" y1="206.60" x2="1349.49" y2="206.60" stroke="#e8383d" stroke-width="1.9" stroke-linecap="butt"/>
<line x1="934.80" y1="37.10" x2="934.80" y2="321.60" stroke="#000" stroke-width="2.0" stroke-linecap="butt"/>
<line x1="1359.30" y1="37.10" x2="1359.30" y2="321.60" stroke="#000" stroke-width="2.0" stroke-linecap="butt"/>
<line x1="929.10" y1="320.60" x2="1364.80" y2="320.60" stroke="#000" stroke-width="2.0" stroke-linecap="butt"/>
<rect x="942.20" y="34.10" width="210.70" height="66.50" fill="#fff" stroke="#404040" stroke-width="1.7"/>
<line x1="951.00" y1="46.70" x2="971.50" y2="46.70" stroke="#000" stroke-width="1.7" stroke-linecap="butt"/>
<circle cx="961.5" cy="46.7" r="5.7" fill="#000"/>
<text transform="translate(982.7 51.7) scale(1 1.035)" font-size="15.45" text-anchor="start" fill="#000" stroke="#000" stroke-width="0.19" font-weight="bold">Active Lever Presses</text>
<line x1="951.00" y1="68.20" x2="971.50" y2="68.20" stroke="#000" stroke-width="1.7" stroke-linecap="butt"/>
<circle cx="961.5" cy="68.2" r="5.4" fill="none" stroke="#000" stroke-width="1.9"/>
<text transform="translate(982.7 73.2) scale(1 1.035)" font-size="15.45" text-anchor="start" fill="#000" stroke="#000" stroke-width="0.19" font-weight="bold">Inactive Lever Presses</text>
<line x1="951.00" y1="90.00" x2="971.50" y2="90.00" stroke="#000" stroke-width="1.7" stroke-linecap="butt"/>
<polygon points="961.5,84.6 955.8,95.0 967.2,95.0" fill="#e8383d"/>
<text transform="translate(982.7 95.0) scale(1 1.035)" font-size="15.45" text-anchor="start" fill="#000" stroke="#000" stroke-width="0.19" font-weight="bold">Infusions</text>
</g>
<g id="panelC">
<text transform="translate(371 472.7) scale(1 1.035)" font-size="37.75" text-anchor="middle" fill="#000" stroke="#000" stroke-width="0.45" font-weight="bold">Cue Reactivity Test:</text>
<text transform="translate(371 509.5) scale(1 1.035)" font-size="29.3" text-anchor="middle" fill="#000" stroke="#000" stroke-width="0.35" font-weight="bold">Previously Active Lever Presses</text>
<text transform="translate(121.8 656) rotate(-90) scale(1 1.035)" font-size="29.3" text-anchor="middle" fill="#000" stroke="#000" stroke-width="0.35" font-weight="bold">Previously Active</text>
<text transform="translate(156.3 655.8) rotate(-90) scale(1 1.035)" font-size="29.3" text-anchor="middle" fill="#000" stroke="#000" stroke-width="0.35" font-weight="bold">Lever Presses</text>
<path d="M256.40,769.10 L256.40,750.40 L361.10,750.40 L361.10,769.10" fill="#808080" stroke="#000" stroke-width="3.1" stroke-linejoin="round"/>
<line x1="308.80" y1="746.60" x2="308.80" y2="753.40" stroke="#000" stroke-width="3.1" stroke-linecap="butt"/>
<line x1="282.70" y1="746.60" x2="335.00" y2="746.60" stroke="#000" stroke-width="3.1" stroke-linecap="butt"/>
<line x1="282.70" y1="753.40" x2="335.00" y2="753.40" stroke="#000" stroke-width="3.1" stroke-linecap="butt"/>
<path d="M413.90,769.10 L413.90,592.40 L518.40,592.40 L518.40,769.10" fill="#ff0000" stroke="#000" stroke-width="3.1" stroke-linejoin="round"/>
<line x1="466.30" y1="584.50" x2="466.30" y2="600.45" stroke="#000" stroke-width="3.1" stroke-linecap="butt"/>
<line x1="440.10" y1="584.50" x2="492.30" y2="584.50" stroke="#000" stroke-width="3.1" stroke-linecap="butt"/>
<line x1="440.10" y1="600.45" x2="492.30" y2="600.45" stroke="#000" stroke-width="3.1" stroke-linecap="butt"/>
<line x1="230.00" y1="557.35" x2="230.00" y2="771.15" stroke="#000" stroke-width="4.1" stroke-linecap="butt"/>
<line x1="224.00" y1="769.10" x2="547.10" y2="769.10" stroke="#000" stroke-width="4.1" stroke-linecap="butt"/>
<line x1="223.80" y1="769.10" x2="230.00" y2="769.10" stroke="#000" stroke-width="4.1" stroke-linecap="butt"/>
<text transform="translate(222.1 779.0) scale(1 1.035)" font-size="29.5" text-anchor="end" fill="#000" stroke="#000" stroke-width="0.35" font-weight="bold">0</text>
<line x1="223.80" y1="716.67" x2="230.00" y2="716.67" stroke="#000" stroke-width="4.1" stroke-linecap="butt"/>
<text transform="translate(222.1 726.5749999999999) scale(1 1.035)" font-size="29.5" text-anchor="end" fill="#000" stroke="#000" stroke-width="0.35" font-weight="bold">50</text>
<line x1="223.80" y1="664.25" x2="230.00" y2="664.25" stroke="#000" stroke-width="4.1" stroke-linecap="butt"/>
<text transform="translate(222.1 674.15) scale(1 1.035)" font-size="29.5" text-anchor="end" fill="#000" stroke="#000" stroke-width="0.35" font-weight="bold">100</text>
<line x1="223.80" y1="611.83" x2="230.00" y2="611.83" stroke="#000" stroke-width="4.1" stroke-linecap="butt"/>
<text transform="translate(222.1 621.725) scale(1 1.035)" font-size="29.5" text-anchor="end" fill="#000" stroke="#000" stroke-width="0.35" font-weight="bold">150</text>
<line x1="223.80" y1="559.40" x2="230.00" y2="559.40" stroke="#000" stroke-width="4.1" stroke-linecap="butt"/>
<text transform="translate(222.1 569.3) scale(1 1.035)" font-size="29.5" text-anchor="end" fill="#000" stroke="#000" stroke-width="0.35" font-weight="bold">200</text>
<line x1="308.80" y1="769.10" x2="308.80" y2="775.20" stroke="#000" stroke-width="4.1" stroke-linecap="butt"/>
<line x1="466.05" y1="769.10" x2="466.05" y2="775.20" stroke="#000" stroke-width="4.1" stroke-linecap="butt"/>
<text x="467.7" y="583.0" font-size="33" text-anchor="middle" font-weight="normal" fill="#000" stroke="#000" stroke-width="0.8" stroke-linejoin="round" letter-spacing="2.9">**</text>
<text transform="translate(308.8 804.8) scale(1 1.035)" font-size="29.3" text-anchor="middle" fill="#000" stroke="#000" stroke-width="0.35" font-weight="bold">Saline</text>
<text transform="translate(466.4 804.8) scale(1 1.035)" font-size="29.3" text-anchor="middle" fill="#000" stroke="#000" stroke-width="0.35" font-weight="bold">Cocaine</text>
</g>
<g id="panelD">
<text transform="translate(1100.8 472.7) scale(1 1.035)" font-size="37.75" text-anchor="middle" fill="#000" stroke="#000" stroke-width="0.45" font-weight="bold">Cue Reactivity Test:</text>
<text transform="translate(1101.3 514.9) scale(1 1.035)" font-size="29.4" text-anchor="middle" font-weight="bold" fill="#000" stroke="#000" stroke-width="0.35">Latency to 1<tspan font-size="22.3" dy="-11.6">st</tspan><tspan dy="11.6"> Lever Press</tspan></text>
<text transform="translate(884.5 656) rotate(-90) scale(1 1.035)" font-size="29.3" text-anchor="middle" fill="#000" stroke="#000" stroke-width="0.35" font-weight="bold">Latency (sec)</text>
<path d="M970.10,770.05 L970.10,637.70 L1075.10,637.70 L1075.10,770.05" fill="#808080" stroke="#000" stroke-width="3.1" stroke-linejoin="round"/>
<line x1="1022.60" y1="593.40" x2="1022.60" y2="681.80" stroke="#000" stroke-width="3.1" stroke-linecap="butt"/>
<line x1="996.20" y1="593.40" x2="1048.90" y2="593.40" stroke="#000" stroke-width="3.1" stroke-linecap="butt"/>
<line x1="996.20" y1="681.80" x2="1048.90" y2="681.80" stroke="#000" stroke-width="3.1" stroke-linecap="butt"/>
<path d="M1127.60,770.05 L1127.60,622.70 L1232.55,622.70 L1232.55,770.05" fill="#ff0000" stroke="#000" stroke-width="3.1" stroke-linejoin="round"/>
<line x1="1180.30" y1="591.90" x2="1180.30" y2="654.00" stroke="#000" stroke-width="3.1" stroke-linecap="butt"/>
<line x1="1154.00" y1="591.90" x2="1206.40" y2="591.90" stroke="#000" stroke-width="3.1" stroke-linecap="butt"/>
<line x1="1154.00" y1="654.00" x2="1206.40" y2="654.00" stroke="#000" stroke-width="3.1" stroke-linecap="butt"/>
<line x1="943.95" y1="557.55" x2="943.95" y2="772.10" stroke="#000" stroke-width="4.1" stroke-linecap="butt"/>
<line x1="937.80" y1="770.05" x2="1260.80" y2="770.05" stroke="#000" stroke-width="4.1" stroke-linecap="butt"/>
<line x1="937.40" y1="770.05" x2="943.95" y2="770.05" stroke="#000" stroke-width="4.1" stroke-linecap="butt"/>
<text transform="translate(936.0 780.15) scale(1 1.035)" font-size="29.5" text-anchor="end" fill="#000" stroke="#000" stroke-width="0.35" font-weight="bold">0</text>
<line x1="937.40" y1="699.90" x2="943.95" y2="699.90" stroke="#000" stroke-width="4.1" stroke-linecap="butt"/>
<text transform="translate(936.0 710.0) scale(1 1.035)" font-size="29.5" text-anchor="end" fill="#000" stroke="#000" stroke-width="0.35" font-weight="bold">10</text>
<line x1="937.40" y1="629.75" x2="943.95" y2="629.75" stroke="#000" stroke-width="4.1" stroke-linecap="butt"/>
<text transform="translate(936.0 639.85) scale(1 1.035)" font-size="29.5" text-anchor="end" fill="#000" stroke="#000" stroke-width="0.35" font-weight="bold">20</text>
<line x1="937.40" y1="559.60" x2="943.95" y2="559.60" stroke="#000" stroke-width="4.1" stroke-linecap="butt"/>
<text transform="translate(936.0 569.7) scale(1 1.035)" font-size="29.5" text-anchor="end" fill="#000" stroke="#000" stroke-width="0.35" font-weight="bold">30</text>
<line x1="1022.60" y1="770.05" x2="1022.60" y2="776.05" stroke="#000" stroke-width="4.1" stroke-linecap="butt"/>
<line x1="1180.20" y1="770.05" x2="1180.20" y2="776.05" stroke="#000" stroke-width="4.1" stroke-linecap="butt"/>
<text transform="translate(1022.9 805.6) scale(1 1.035)" font-size="29.3" text-anchor="middle" fill="#000" stroke="#000" stroke-width="0.35" font-weight="bold">Saline</text>
<text transform="translate(1180.3 805.6) scale(1 1.035)" font-size="29.3" text-anchor="middle" fill="#000" stroke="#000" stroke-width="0.35" font-weight="bold">Cocaine</text>
</g>
</svg>
</body>
</html>
